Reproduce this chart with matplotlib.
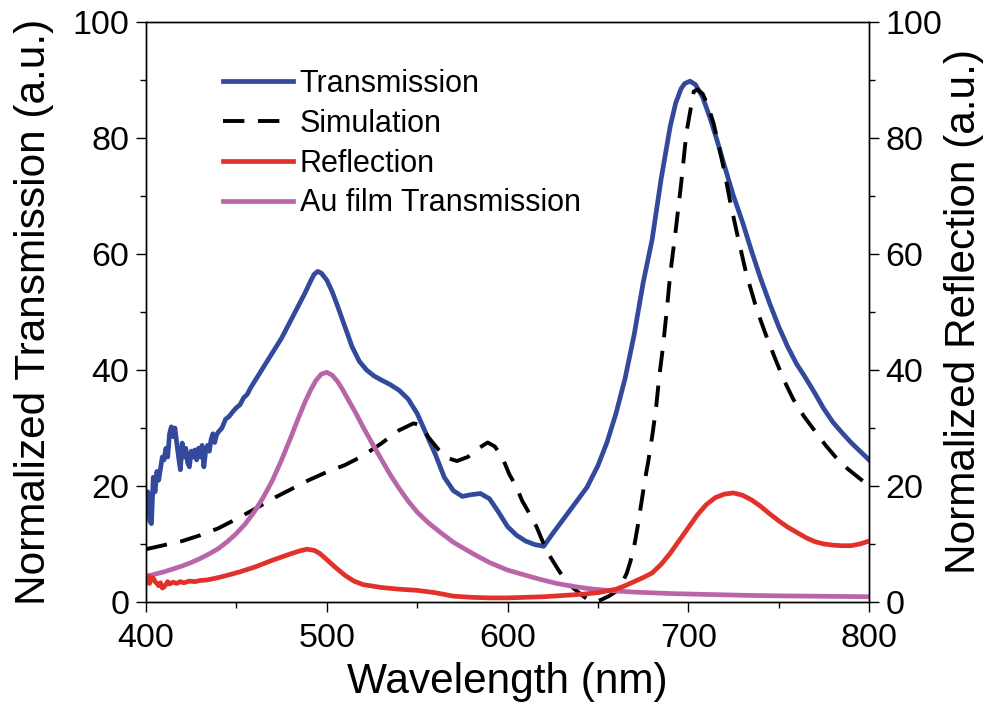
import matplotlib
matplotlib.use("Agg")
import matplotlib.pyplot as plt  # noqa: E402
from matplotlib.ticker import MultipleLocator  # noqa: E402

plt.rcParams["font.family"] = ["Liberation Sans", "DejaVu Sans"]

# measured transmission (blue)
trans_wl = [400, 401, 402, 403, 404, 405, 406, 407, 408, 409, 410, 411, 412, 413, 414,
            415, 416, 417, 418, 419, 420, 421, 422, 423, 424, 425, 426, 427, 428, 429,
            430, 431, 432, 433, 434, 435, 436, 437, 438, 439, 440, 442, 444, 446, 448,
            450, 452, 454, 456, 458, 460, 465, 470, 475, 480, 485, 488, 491, 493, 495,
            497, 500, 503, 506, 510, 514, 518, 522, 526, 530, 535, 540, 545, 550, 555,
            560, 565, 570, 575, 580, 585, 590, 595, 600, 605, 610, 615, 620, 625, 630,
            635, 640, 644, 650, 655, 660, 665, 670, 675, 680, 685, 690, 693, 696, 698,
            701, 704, 708, 712, 716, 720, 725, 730, 735, 740, 745, 750, 755, 760, 765,
            770, 775, 780, 785, 790, 795, 800]
trans = [16, 19, 14, 13.5, 21.5, 19, 22.5, 21, 23, 25, 24.5, 26.5, 25, 29, 30.2,
         28.5, 30, 27.4, 25, 22.8, 27.4, 25, 26.5, 24, 23.3, 26, 25, 26.2, 24.5, 26.5,
         25, 27, 23.3, 26, 27, 26, 28, 29, 27.5, 28.8, 29.3, 30, 31.5, 32, 32.8,
         33.5, 34, 35.2, 35.8, 37, 38, 40.5, 43, 45.5, 48.5, 51.5, 53.3, 55.3, 56.5, 57,
         56.7, 55.5, 53.5, 51, 47.5, 44, 41.5, 40, 39, 38.3, 37.5, 36.5, 35, 32.5, 29,
         25.5, 21.5, 19.2, 18.2, 18.5, 18.7, 17.8, 15.5, 13, 11.5, 10.5, 9.9, 9.6, 11.8, 13.9,
         16, 18.1, 19.8, 23.5, 27.5, 32.5, 38.5, 46, 55, 62.5, 73, 82, 86, 88.5, 89.4,
         89.8, 89.2, 87, 83.5, 79.5, 75.2, 70, 65.5, 60.5, 55.8, 51.5, 47.5, 44, 41, 38.6,
         36, 33.3, 31, 29.2, 27.5, 26, 24.5]

# simulated transmission (dashed)
sim_wl = [400, 410, 420, 430, 440, 450, 460, 470, 480, 490, 500, 510, 520, 530, 540,
          548, 552, 556, 562, 567, 572, 578, 584, 589, 593, 597, 601, 605, 608, 612,
          616, 620, 624, 628, 632, 636, 641, 645, 648, 652, 656, 660, 663, 666, 668,
          670, 672, 674, 676, 678, 680, 682, 684, 686, 688, 690, 693, 696, 699, 701,
          703, 705, 708, 711, 714, 717, 720, 723, 727, 732, 738, 743, 748, 753, 758,
          764, 770, 776, 782, 788, 794, 800]
sim = [9.1, 9.8, 10.5, 11.5, 12.7, 14.3, 16, 17.8, 19.4, 21, 22.4, 23.6, 25.2, 27.3, 29.6,
       30.8, 30.5, 28.5, 26.2, 24.8, 24.3, 25, 26.5, 27.5, 26.8, 25, 22, 19.8, 17.5, 15.3,
       13, 10, 7.6, 5.6, 3.7, 2.5, 1.2, 0.3, 0, 0.4, 1, 1.8, 3, 5, 7,
       9.5, 13, 17, 21, 24.5, 28.5, 33, 39, 44, 50, 56.5, 64, 72, 81, 84.5,
       88, 88.4, 87.6, 85.5, 82.5, 78.5, 74.2, 69.3, 63.5, 56.7, 50.3, 46, 42, 38.2, 35,
       32, 29.5, 27, 24.8, 23, 21.5, 20]

# reflection (red, right axis)
refl_wl = [400, 401, 402, 403, 404, 405, 406, 407, 408, 409, 410, 411, 412, 413, 415,
           417, 419, 421, 424, 427, 430, 434, 440, 445, 452, 460, 470, 480, 485, 489,
           493, 496, 500, 505, 510, 515, 520, 530, 540, 550, 560, 570, 580, 590, 600,
           610, 620, 630, 640, 650, 660, 665, 670, 675, 680, 685, 690, 695, 700, 705,
           710, 715, 720, 725, 730, 735, 740, 745, 750, 755, 760, 765, 770, 775, 780,
           785, 790, 795, 800]
refl = [3.3, 4.5, 3.2, 4.2, 4.1, 3.5, 3.2, 2.8, 3.3, 2.4, 2.6, 3.0, 3.5, 3.1, 3.4,
        3.2, 3.5, 3.3, 3.6, 3.5, 3.7, 3.8, 4.2, 4.6, 5.2, 6.0, 7.2, 8.3, 8.8, 9.1,
        8.9, 8.4, 7.3, 5.9, 4.6, 3.6, 3.0, 2.5, 2.2, 2.0, 1.6, 1.0, 0.8, 0.7, 0.7,
        0.8, 0.9, 1.1, 1.3, 1.6, 2.2, 2.8, 3.5, 4.2, 5.0, 6.5, 8.4, 10.6, 12.8, 15,
        16.8, 18, 18.6, 18.8, 18.4, 17.6, 16.5, 15.2, 14, 12.9, 12, 11.1, 10.4, 10, 9.8,
        9.7, 9.7, 10.0, 10.5]

# bare Au film transmission (magenta)
au_wl = [400, 405, 410, 415, 420, 425, 430, 435, 440, 445, 450, 455, 460, 465, 470,
         475, 480, 484, 488, 491, 494, 497, 500, 503, 506, 509, 512, 516, 520, 525,
         530, 535, 540, 545, 550, 556, 562, 570, 581, 590, 600, 610, 618, 627, 636,
         645, 655, 670, 690, 710, 730, 750, 770, 800]
au = [4.4, 4.8, 5.2, 5.7, 6.2, 6.8, 7.5, 8.3, 9.2, 10.4, 11.8, 13.5, 15.6, 18.1, 21,
      24.5, 28.3, 31.5, 34.5, 36.5, 38.2, 39.3, 39.6, 39.1, 38, 36.5, 34.8, 32.6, 30.2, 27.4,
      24.7, 22, 19.6, 17.4, 15.5, 13.7, 12.2, 10.3, 8.3, 6.8, 5.5, 4.6, 3.9, 3.2, 2.7,
      2.3, 2.0, 1.7, 1.45, 1.3, 1.15, 1.05, 1.0, 0.9]

fig = plt.figure(figsize=(9.88, 7.27), dpi=100)
ax = fig.add_axes([0.1478, 0.172, 0.7318, 0.7977])
ax2 = ax.twinx()

lw = 3.4
l1, = ax.plot(trans_wl, trans, color="#33499b", lw=lw, label="Transmission")
l2, = ax.plot(sim_wl, sim, color="black", lw=2.8, ls=(0, (5.5, 3.5)), label="Simulation")
l4, = ax.plot(au_wl, au, color="#b966a8", lw=lw, label="Au film Transmission")
l3, = ax2.plot(refl_wl, refl, color="#e2302b", lw=lw, label="Reflection")

for a in (ax, ax2):
    a.set_xlim(400, 800)
    a.set_ylim(0, 100)
    a.yaxis.set_major_locator(MultipleLocator(20))
    a.yaxis.set_minor_locator(MultipleLocator(10))
    a.tick_params(which="major", direction="out", length=7, width=1, labelsize=24.5, pad=5)
    a.tick_params(which="minor", direction="out", length=4, width=1)
    for s in a.spines.values():
        s.set_linewidth(1)

ax.xaxis.set_major_locator(MultipleLocator(100))
ax.xaxis.set_minor_locator(MultipleLocator(50))
ax.tick_params(axis="x", pad=8)

ax.set_xlabel("Wavelength (nm)", fontsize=30.5, labelpad=6)
ax.set_ylabel("Normalized Transmission (a.u.)", fontsize=30.5, labelpad=13)
ax2.set_ylabel("Normalized Reflection (a.u.)", fontsize=30.5, labelpad=1)

ax.legend(handles=[l1, l2, l3, l4], loc="upper left", bbox_to_anchor=(0.089, 0.94),
          frameon=False, fontsize=22, handlelength=2.3, handletextpad=0.22,
          labelspacing=0.32, borderaxespad=0)

fig.savefig("out.png", dpi=100)
